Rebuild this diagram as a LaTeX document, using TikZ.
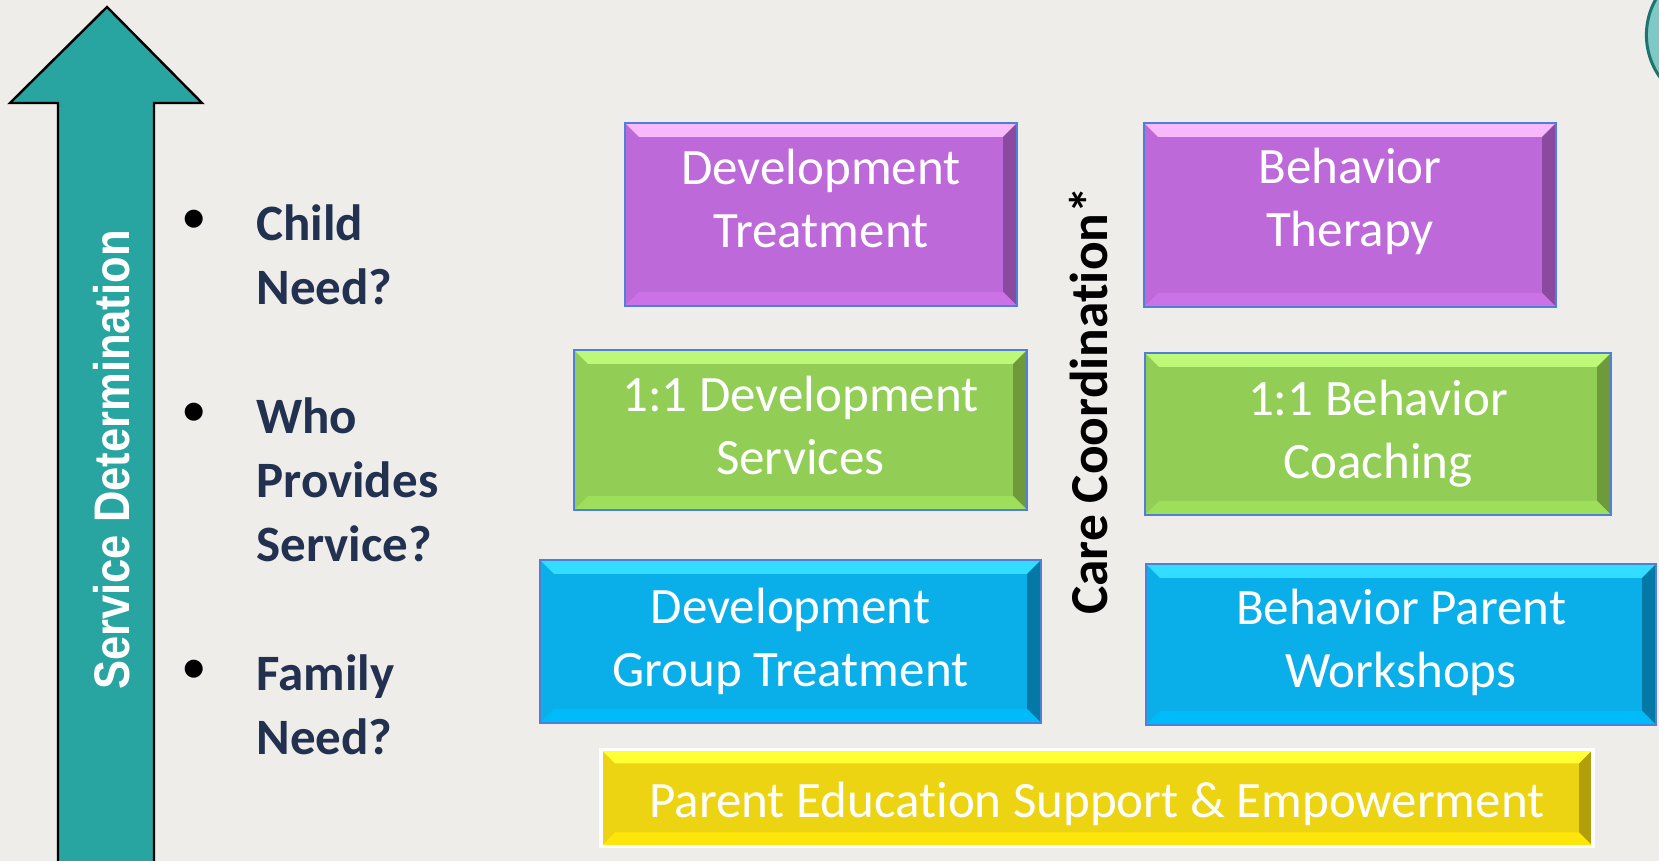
\documentclass[tikz,border=0pt]{standalone}
\usepackage{fontspec}
\setmainfont[Ligatures=NoCommon, Contextuals=NoAlternate]{Carlito}
\newfontfamily\arrowfont[FakeStretch=0.87]{Liberation Sans}

\definecolor{paper}{HTML}{EFEDE9}
\definecolor{arrowteal}{HTML}{28A5A0}
\definecolor{asktext}{HTML}{22314F}
\definecolor{boxedge}{HTML}{4F7FD6}
% purple, green, blue and yellow boxes: face, top, right, bottom
\definecolor{purpface}{HTML}{BD69D9}
\definecolor{purptop}{HTML}{F7B9FB}
\definecolor{purpright}{HTML}{8B4A9F}
\definecolor{purpbot}{HTML}{CB72E6}
\definecolor{grnface}{HTML}{92CD55}
\definecolor{grntop}{HTML}{BDF878}
\definecolor{grnright}{HTML}{6E9A3C}
\definecolor{grnbot}{HTML}{9DDE5A}
\definecolor{bluface}{HTML}{0AAEE8}
\definecolor{blutop}{HTML}{33DDFF}
\definecolor{bluright}{HTML}{0579A6}
\definecolor{blubot}{HTML}{00BBF9}
\definecolor{yelface}{HTML}{EDD412}
\definecolor{yeltop}{HTML}{FFFF33}
\definecolor{yelright}{HTML}{B39E0B}
\definecolor{yelbot}{HTML}{FFE60A}

\tikzset{
  bevel/.style n args={4}{fill=#1, path picture={
    \fill[#2] (path picture bounding box.north west) -- (path picture bounding box.north east)
      -- ([shift={(-7pt,-7pt)}]path picture bounding box.north east)
      -- ([shift={(7pt,-7pt)}]path picture bounding box.north west) -- cycle;
    \fill[#3] (path picture bounding box.north east) -- (path picture bounding box.south east)
      -- ([shift={(-7pt,7pt)}]path picture bounding box.south east)
      -- ([shift={(-7pt,-7pt)}]path picture bounding box.north east) -- cycle;
    \fill[#4] (path picture bounding box.south east) -- (path picture bounding box.south west)
      -- ([shift={(7pt,7pt)}]path picture bounding box.south west)
      -- ([shift={(-7pt,7pt)}]path picture bounding box.south east) -- cycle;
  }},
  servicebox/.style={rectangle, draw=boxedge, line width=1pt, inner sep=0pt},
  boxtext/.style={inner sep=0pt, text=white, align=center, font=\fontsize{25.5}{31.5}\selectfont},
  purplebox/.style={servicebox, bevel={purpface}{purptop}{purpright}{purpbot}},
  greenbox/.style={servicebox, bevel={grnface}{grntop}{grnright}{grnbot}},
  bluebox/.style={servicebox, bevel={bluface}{blutop}{bluright}{blubot}},
  yellowbox/.style={servicebox, draw=white, line width=1.6pt, bevel={yelface}{yeltop}{yelright}{yelbot}},
  ask/.style={anchor=north west, inner sep=0pt, align=left, text=asktext,
    font=\fontsize{25.5}{32}\selectfont\bfseries},
  dot/.style={inner sep=0pt, text=black, font=\fontsize{25.5}{32}\selectfont}
}

\begin{document}
\begin{tikzpicture}[x=0.5pt,y=0.5pt]
\useasboundingbox (0,0) rectangle (1659,861);
\fill[paper] (0,0) rectangle (1659,861);

% corner ring
\fill[draw=arrowteal!70!black, fill=arrowteal!60!white, line width=1.5pt] (1719,826) circle (72.6);

% big arrow on the left
\filldraw[fill=arrowteal, draw=black, line width=1.2pt]
  (58,-5) -- (58,758) -- (10,758) -- (107,854) -- (202,758) -- (154,758) -- (154,-5) -- cycle;
\node[rotate=90, anchor=base, inner sep=0pt, text=white, font=\arrowfont\fontsize{25}{30}\selectfont\bfseries]
  (servdet) at (129,401) {Service Determination};

% questions
\node[dot] (bchild) at (194,639) {•};
\node[dot] (bwho) at (194,446) {•};
\node[dot] (bfamily) at (194,189) {•};
\node[ask] (qchild) at (256,657) {Child\\Need?};
\node[ask] (qwho) at (256,464) {Who\\Provides\\Service?};
\node[ask] (qfamily) at (256,207) {Family\\Need?};

% service boxes
\node[purplebox, minimum width=196pt, minimum height=91.5pt,
  label={[boxtext, name=devtreat-txt, yshift=8pt]center:{Development\\Treatment}}] (devtreat) at (821,646.5) {};
\node[purplebox, minimum width=206pt, minimum height=92pt,
  label={[boxtext, name=behther-txt, yshift=7pt]center:{Behavior\\Therapy}}] (behther) at (1350,646) {};
\node[greenbox, minimum width=226.5pt, minimum height=80pt,
  label={[boxtext, name=devserv-txt, yshift=2.5pt]center:{1:1 Development\\Services}}] (devserv) at (800.5,431) {};
\node[greenbox, minimum width=233pt, minimum height=81pt,
  label={[boxtext, name=behcoach-txt]center:{1:1 Behavior\\Coaching}}] (behcoach) at (1378,427) {};
\node[bluebox, minimum width=250.5pt, minimum height=81.5pt,
  label={[boxtext, name=devgroup-txt]center:{Development\\Group Treatment}}] (devgroup) at (790.5,219.5) {};
\node[bluebox, minimum width=255pt, minimum height=80.5pt,
  label={[boxtext, name=behparent-txt, yshift=1pt]center:{Behavior Parent\\Workshops}}] (behparent) at (1401,216.5) {};
\node[yellowbox, minimum width=496pt, minimum height=48.5pt,
  label={[boxtext, name=parented-txt, yshift=-3pt]center:{Parent Education Support \& Empowerment}}] (parented) at (1097,63) {};

\node[rotate=90, anchor=base, inner sep=0pt, font=\fontsize{26.7}{32}\selectfont\bfseries]
  (carecoord) at (1107,460) {Care Coordination*};

\end{tikzpicture}
\end{document}
